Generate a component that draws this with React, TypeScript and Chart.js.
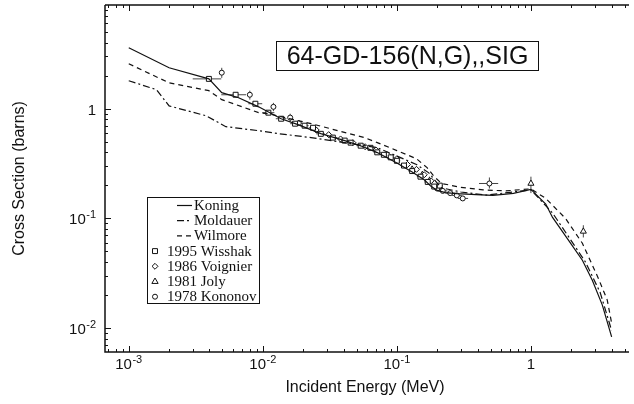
import React, { useEffect, useRef } from 'react';
import { Chart, registerables } from 'chart.js';
Chart.register(...registerables);

// ---- axis ranges (log) ----
const xMin = 6.65e-4;
const xMax = 5.39;
const yMin = 0.00605;
const yMax = 8.82;
const xDecades = [0.001, 0.01, 0.1, 1];
const xDecadeLabels = [['10', '-3'], ['10', '-2'], ['10', '-1'], ['1', '']];
const yDecades = [0.01, 0.1, 1];
const yDecadeLabels = [['10', '-2'], ['10', '-1'], ['1', '']];

const titleText = '64-GD-156(N,G),,SIG';
const xTitle = 'Incident Energy (MeV)';
const yTitle = 'Cross Section (barns)';

// ---- evaluated curves ----
const koningE = [0.001, 0.002, 0.00396, 0.00494, 0.0066, 0.0093, 0.0137, 0.0183, 0.0271, 0.0408, 0.0554, 0.0714, 0.1, 0.13, 0.16, 0.18, 0.2, 0.23, 0.28, 0.39, 0.52, 0.74, 1.0, 1.29, 1.45, 1.91, 2.42, 2.87, 3.41, 4.0];
const koningS = [3.59, 2.36, 1.87, 1.40, 1.26, 1.04, 0.81, 0.716, 0.593, 0.512, 0.452, 0.398, 0.32, 0.265, 0.225, 0.196, 0.18, 0.172, 0.168, 0.165, 0.162, 0.169, 0.184, 0.135, 0.102, 0.063, 0.0415, 0.0273, 0.0162, 0.0083];

const moldauerE = [0.001, 0.00161, 0.002, 0.00377, 0.0053, 0.0093, 0.013, 0.0229, 0.0452, 0.0714, 0.1, 0.14, 0.173, 0.2, 0.216, 0.3, 0.465, 1.0, 1.45, 1.91, 2.55, 3.29, 4.0];
const moldauerS = [1.80, 1.49, 1.06, 0.863, 0.686, 0.63, 0.593, 0.545, 0.481, 0.442, 0.37, 0.31, 0.26, 0.21, 0.19, 0.174, 0.163, 0.182, 0.112, 0.068, 0.040, 0.021, 0.0095];

const wilmoreE = [0.001, 0.002, 0.00396, 0.00494, 0.0093, 0.011, 0.0229, 0.0573, 0.0714, 0.1, 0.14, 0.168, 0.19, 0.216, 0.3, 0.44, 0.65, 1.0, 1.29, 1.81, 2.42, 3.18, 3.71, 4.0];
const wilmoreS = [2.57, 1.72, 1.46, 1.21, 0.92, 0.90, 0.731, 0.545, 0.491, 0.415, 0.35, 0.29, 0.24, 0.208, 0.192, 0.182, 0.178, 0.186, 0.152, 0.100, 0.0593, 0.0285, 0.018, 0.0111];

// ---- experimental data ----
const wisshakE = [0.00396, 0.00627, 0.0088, 0.011, 0.0137, 0.0174, 0.0205, 0.0237, 0.0271, 0.0333, 0.0408, 0.0452, 0.0537, 0.0635, 0.0714, 0.08, 0.09, 0.1, 0.113, 0.13, 0.15, 0.17, 0.19, 0.209];
const wisshakS = [1.87, 1.34, 1.11, 0.92, 0.81, 0.73, 0.70, 0.67, 0.59, 0.545, 0.512, 0.49, 0.46, 0.44, 0.40, 0.38, 0.36, 0.335, 0.303, 0.27, 0.24, 0.215, 0.195, 0.199];
const wisshakElo = [0.0030, 0.0049, 0.0078, 0.0099, 0.0125, 0.016, 0.019, 0.022, 0.025, 0.031, 0.038, 0.042, 0.050, 0.059, 0.067, 0.075, 0.085, 0.094, 0.106, 0.122, 0.141, 0.16, 0.179, 0.197];
const wisshakEhi = [0.0049, 0.0075, 0.0099, 0.0122, 0.015, 0.019, 0.022, 0.0255, 0.029, 0.036, 0.044, 0.049, 0.058, 0.068, 0.076, 0.085, 0.096, 0.106, 0.12, 0.138, 0.159, 0.18, 0.20, 0.22];

const voignierE = [0.0185, 0.025, 0.031, 0.038, 0.047, 0.058, 0.07, 0.085, 0.1, 0.12, 0.14, 0.16, 0.18];
const voignierS = [0.74, 0.64, 0.58, 0.53, 0.49, 0.45, 0.42, 0.38, 0.35, 0.31, 0.28, 0.25, 0.22];

const jolyE = [0.13, 0.155, 0.175, 1.0, 2.46];
const jolyS = [0.28, 0.25, 0.22, 0.208, 0.0761];
const jolySlo = [0.26, 0.23, 0.20, 0.17, 0.067];
const jolyShi = [0.30, 0.27, 0.24, 0.24, 0.0866];

const kononovE = [0.00494, 0.008, 0.012, 0.016, 0.2, 0.22, 0.25, 0.28, 0.31, 0.49];
const kononovS = [2.13, 1.34, 1.04, 0.83, 0.187, 0.178, 0.17, 0.162, 0.152, 0.208];
const kononovSlo = [1.91, 1.21, 0.95, 0.76, 0.18, 0.171, 0.163, 0.155, 0.146, 0.187];
const kononovShi = [2.36, 1.46, 1.13, 0.90, 0.195, 0.185, 0.177, 0.169, 0.158, 0.236];
const kononovElo = [0.00494, 0.008, 0.012, 0.016, 0.185, 0.203, 0.23, 0.258, 0.285, 0.41];
const kononovEhi = [0.00494, 0.008, 0.012, 0.016, 0.217, 0.238, 0.272, 0.305, 0.34, 0.57];

const legendLabels = ['Koning', 'Moldauer', 'Wilmore', '1995 Wisshak', '1986 Voignier', '1981 Joly', '1978 Kononov'];

const INK = '#111';
const koningDash: number[] = [];
const moldauerDash = [7, 3, 2, 3];
const wilmoreDash = [5, 4];

const pts = (e: number[], s: number[]) => e.map((v, i) => ({ x: v, y: s[i] }));

const errorSets = [
  { e: wisshakE, s: wisshakS, elo: wisshakElo, ehi: wisshakEhi, slo: null, shi: null },
  { e: jolyE, s: jolyS, elo: null, ehi: null, slo: jolySlo, shi: jolyShi },
  { e: kononovE, s: kononovS, elo: kononovElo, ehi: kononovEhi, slo: kononovSlo, shi: kononovShi },
];

const errorBarPlugin = {
  id: 'errbars',
  beforeDatasetsDraw(chart: any) {
    const ctx = chart.ctx;
    const xs = chart.scales.x;
    const ys = chart.scales.y;
    ctx.save();
    ctx.strokeStyle = '#444';
    ctx.lineWidth = 1;
    errorSets.forEach((set: any) => {
      set.e.forEach((e: number, i: number) => {
        const px = xs.getPixelForValue(e);
        const py = ys.getPixelForValue(set.s[i]);
        ctx.beginPath();
        if (set.elo) {
          ctx.moveTo(xs.getPixelForValue(set.elo[i]), py);
          ctx.lineTo(xs.getPixelForValue(set.ehi[i]), py);
        }
        if (set.slo) {
          ctx.moveTo(px, ys.getPixelForValue(set.slo[i]));
          ctx.lineTo(px, ys.getPixelForValue(set.shi[i]));
        }
        ctx.stroke();
      });
    });
    ctx.restore();
  },
};

function drawMarker(ctx: CanvasRenderingContext2D, style: string, x: number, y: number, r: number) {
  ctx.beginPath();
  if (style === 'rect') {
    const h = r * Math.SQRT1_2;
    ctx.rect(x - h, y - h, 2 * h, 2 * h);
  } else if (style === 'rectRot') {
    const h = r * Math.SQRT1_2 * 1.2;
    ctx.moveTo(x, y - h); ctx.lineTo(x + h, y); ctx.lineTo(x, y + h); ctx.lineTo(x - h, y); ctx.closePath();
  } else if (style === 'triangle') {
    ctx.moveTo(x, y - r); ctx.lineTo(x + r * 0.9, y + r * 0.55); ctx.lineTo(x - r * 0.9, y + r * 0.55); ctx.closePath();
  } else {
    ctx.arc(x, y, r, 0, Math.PI * 2);
  }
  ctx.fill();
  ctx.stroke();
}

function drawPow(ctx: CanvasRenderingContext2D, base: string, exp: string, x: number, y: number, align: string) {
  ctx.font = '15px "Liberation Sans", Arial, sans-serif';
  const wb = ctx.measureText(base).width;
  ctx.font = '11px "Liberation Sans", Arial, sans-serif';
  const we = exp ? ctx.measureText(exp).width + 0.5 : 0;
  const total = wb + we;
  let left = x;
  if (align === 'center') left = x - total / 2;
  if (align === 'right') left = x - total;
  ctx.textAlign = 'left';
  ctx.textBaseline = 'alphabetic';
  ctx.font = '15px "Liberation Sans", Arial, sans-serif';
  ctx.fillText(base, left, y);
  if (exp) {
    ctx.font = '11px "Liberation Sans", Arial, sans-serif';
    ctx.fillText(exp, left + wb + 0.5, y - 6);
  }
}

const decorPlugin = {
  id: 'decor',
  afterDraw(chart: any) {
    const ctx = chart.ctx as CanvasRenderingContext2D;
    const xs = chart.scales.x;
    const ys = chart.scales.y;
    const { left, right, top, bottom } = chart.chartArea;
    ctx.save();
    ctx.strokeStyle = INK;
    ctx.fillStyle = INK;
    // axis lines
    ctx.lineWidth = 1.5;
    ctx.beginPath();
    ctx.moveTo(left, top); ctx.lineTo(left, bottom); ctx.lineTo(right, bottom);
    ctx.moveTo(left, top); ctx.lineTo(right, top);
    ctx.stroke();
    // ticks
    ctx.lineWidth = 1;
    ctx.beginPath();
    for (let d = -4; d <= 1; d++) {
      for (let m = 1; m <= 9; m++) {
        const v = m * Math.pow(10, d);
        if (v >= xMin && v <= xMax) {
          const px = Math.round(xs.getPixelForValue(v)) + 0.5;
          const len = m === 1 ? 6 : 3;
          ctx.moveTo(px, bottom); ctx.lineTo(px, bottom - len);
          ctx.moveTo(px, top); ctx.lineTo(px, top + len);
        }
        const vy = m * Math.pow(10, d - 1);
        if (vy >= yMin && vy <= yMax) {
          const py = Math.round(ys.getPixelForValue(vy)) + 0.5;
          const len = m === 1 ? 6 : 3;
          ctx.moveTo(left, py); ctx.lineTo(left + len, py);
        }
      }
    }
    ctx.stroke();
    // tick labels
    xDecades.forEach((v, i) => {
      const px = xs.getPixelForValue(v);
      drawPow(ctx, xDecadeLabels[i][0], xDecadeLabels[i][1], px, bottom + 17, 'center');
    });
    yDecades.forEach((v, i) => {
      const py = ys.getPixelForValue(v);
      drawPow(ctx, yDecadeLabels[i][0], yDecadeLabels[i][1], left - 9, py + 6, 'right');
    });
    // axis titles
    ctx.font = '16px "Liberation Sans", Arial, sans-serif';
    ctx.textAlign = 'center';
    ctx.textBaseline = 'middle';
    ctx.fillText(xTitle, 365, 388);
    ctx.save();
    ctx.translate(20, (top + bottom) / 2);
    ctx.rotate(-Math.PI / 2);
    ctx.fillText(yTitle, 0, 0);
    ctx.restore();
    // title box
    ctx.fillStyle = '#fff';
    ctx.fillRect(276, 41, 263, 30);
    ctx.lineWidth = 1;
    ctx.strokeRect(276.5, 41.5, 262, 29);
    ctx.fillStyle = INK;
    ctx.font = '25px "Liberation Sans", Arial, sans-serif';
    ctx.textAlign = 'center';
    ctx.textBaseline = 'middle';
    ctx.fillText(titleText, 407.5, 57);
    // legend
    ctx.fillStyle = '#fff';
    ctx.fillRect(147, 197, 112, 106);
    ctx.strokeStyle = INK;
    ctx.lineWidth = 1;
    ctx.strokeRect(147.5, 197.5, 112, 106);
    const kinds = [
      { dash: koningDash }, { dash: moldauerDash }, { dash: wilmoreDash },
      { style: 'rect' }, { style: 'rectRot' }, { style: 'triangle' }, { style: 'circle' },
    ];
    ctx.font = '15px "Liberation Serif", "Times New Roman", serif';
    ctx.textAlign = 'left';
    ctx.textBaseline = 'middle';
    legendLabels.forEach((lab, i) => {
      const y = 205.5 + i * 15.2;
      const k: any = kinds[i];
      if (k.dash) {
        ctx.strokeStyle = INK;
        ctx.lineWidth = 1.2;
        ctx.setLineDash(k.dash);
        ctx.beginPath();
        ctx.moveTo(177, y); ctx.lineTo(192, y);
        ctx.stroke();
        ctx.setLineDash([]);
        ctx.fillStyle = INK;
        ctx.fillText(lab, 194, y + 0.5);
      } else {
        ctx.fillStyle = '#fff';
        ctx.strokeStyle = INK;
        ctx.lineWidth = 1;
        drawMarker(ctx, k.style, 155, y, k.style === 'circle' ? 2.5 : 3.5);
        ctx.fillStyle = INK;
        ctx.fillText(lab, 167, y + 0.5);
      }
    });
    ctx.restore();
  },
};

export default function App() {
  const ref = useRef<HTMLCanvasElement>(null);
  useEffect(() => {
    if (!ref.current) return;
    const lineDs = (label: string, e: number[], s: number[], dash: number[]) => ({
      label, data: pts(e, s), showLine: true, pointRadius: 0, borderColor: INK,
      borderWidth: 1.2, borderDash: dash, fill: false, tension: 0,
    });
    const pointDs = (label: string, e: number[], s: number[], style: string, r: number) => ({
      label, data: pts(e, s), showLine: false, pointStyle: style, pointRadius: r,
      backgroundColor: '#fff', borderColor: INK, borderWidth: 1,
    });
    const chart = new Chart(ref.current, {
      type: 'scatter',
      data: {
        datasets: [
          lineDs('Koning', koningE, koningS, koningDash),
          lineDs('Moldauer', moldauerE, moldauerS, moldauerDash),
          lineDs('Wilmore', wilmoreE, wilmoreS, wilmoreDash),
          pointDs('1995 Wisshak', wisshakE, wisshakS, 'rect', 3.5),
          pointDs('1986 Voignier', voignierE, voignierS, 'rectRot', 3),
          pointDs('1981 Joly', jolyE, jolyS, 'triangle', 3.5),
          pointDs('1978 Kononov', kononovE, kononovS, 'circle', 2.5),
        ] as any,
      },
      options: {
        animation: false,
        responsive: false,
        maintainAspectRatio: false,
        layout: { padding: { left: 105, top: 4, right: 0, bottom: 52 } },
        plugins: { legend: { display: false }, tooltip: { enabled: false }, title: { display: false } },
        scales: {
          x: { type: 'logarithmic', min: xMin, max: xMax, display: false },
          y: { type: 'logarithmic', min: yMin, max: yMax, display: false },
        },
      } as any,
      plugins: [errorBarPlugin, decorPlugin],
    });
    return () => chart.destroy();
  }, []);
  return (
    <div style={{ position: 'fixed', left: 0, top: 0, width: 634, height: 404, background: '#fff' }}>
      <canvas ref={ref} width={634} height={404} style={{ display: 'block', width: 634, height: 404 }} />
    </div>
  );
}
